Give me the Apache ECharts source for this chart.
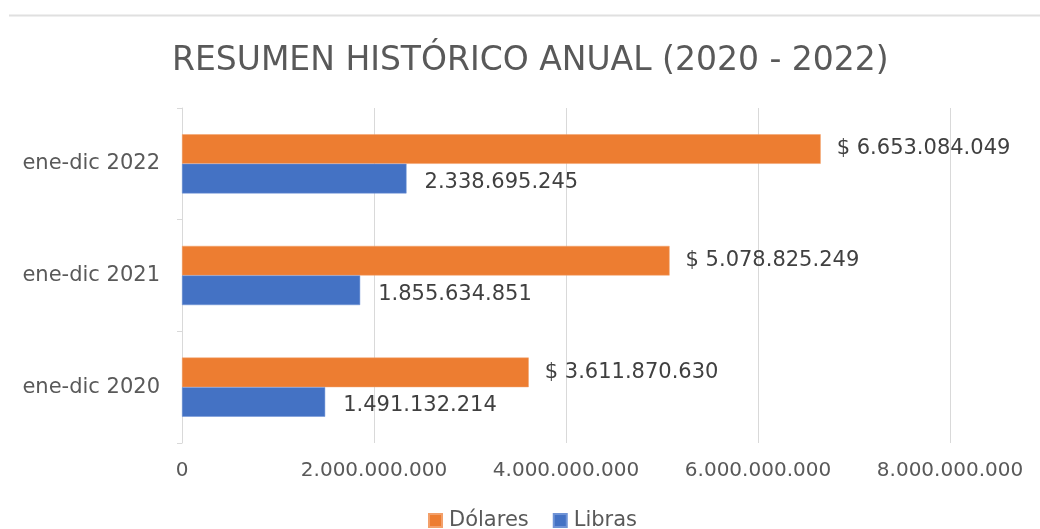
<!DOCTYPE html>
<html>
<head>
<meta charset="utf-8">
<script src="https://cdn.jsdelivr.net/npm/echarts@6/dist/echarts.min.js"></script>
<style>
  html, body { margin: 0; padding: 0; background: #fff; }
  #chart { width: 1040px; height: 529px; }
</style>
</head>
<body>
<div id="chart"></div>
<script>
// categorias (de abajo hacia arriba)
const categorias = ['ene-dic 2020', 'ene-dic 2021', 'ene-dic 2022'];
// valores por serie
const dolares = [3611870630, 5078825249, 6653084049];
const libras = [1491132214, 1855634851, 2338695245];
// eje x
const ejeMax = 8000000000;
const ejePaso = 2000000000;

//formato con puntos de miles
function miles(v) {
  return String(Math.round(v)).replace(/\B(?=(\d{3})+(?!\d))/g, '.');
}

let chart = echarts.init(document.getElementById('chart'), null, { renderer: 'canvas' });

const fuente = '"DejaVu Sans", sans-serif';

chart.setOption({
  backgroundColor: '#ffffff',
  animation: false,
  title: {
    text: 'RESUMEN HISTÓRICO ANUAL (2020 - 2022)',
    left: 167,
    top: 40,
    textStyle: {
      fontFamily: fuente,
      fontSize: 33,
      fontWeight: 'normal',
      color: '#595959'
    }
  },
  //linea superior de la hoja
  graphic: [{
    type: 'line',
    shape: { x1: 9, y1: 15.5, x2: 1040, y2: 15.5 },
    style: { stroke: '#e0e0e0', lineWidth: 2 }
  }],
  legend: {
    data: ['Dólares', 'Libras'],
    bottom: -7,
    left: 423,
    itemWidth: 13,
    itemHeight: 13,
    itemGap: 24,
    icon: 'rect',
    textStyle: { fontFamily: fuente, fontSize: 21, color: '#595959', padding: [0, 0, 0, 2] }
  },
  grid: {
    left: 182,
    right: 90,
    top: 108,
    bottom: 86,
    containLabel: false
  },
  xAxis: {
    type: 'value',
    min: 0,
    max: ejeMax,
    interval: ejePaso,
    axisLine: { show: false },
    axisTick: { show: false },
    splitLine: { lineStyle: { color: '#d9d9d9', width: 1 } },
    axisLabel: {
      margin: 18,
      fontFamily: fuente,
      fontSize: 20,
      color: '#595959',
      formatter: miles
    }
  },
  yAxis: {
    type: 'category',
    data: categorias,
    axisLine: { show: true, lineStyle: { color: '#d9d9d9' } },
    axisTick: { show: true, length: 5, lineStyle: { color: '#d9d9d9' } },
    axisLabel: {
      margin: 22,
      fontFamily: fuente,
      fontSize: 21,
      color: '#595959'
    }
  },
  series: [{
    name: 'Dólares',
    type: 'bar',
    data: dolares,
    barGap: '0%',
    barCategoryGap: '47%',
    itemStyle: { color: '#ED7D31', borderColor: '#f3a06a', borderWidth: 0.5 },
    label: {
      show: true,
      position: 'right',
      distance: 16,
      fontFamily: fuente,
      fontSize: 21,
      color: '#404040',
      formatter: p => '$ ' + miles(p.value)
    }
  }, {
    name: 'Libras',
    type: 'bar',
    data: libras,
    barGap: '0%',
    barCategoryGap: '47%',
    itemStyle: { color: '#4472C4', borderColor: '#6f93d6', borderWidth: 0.5 },
    label: {
      show: true,
      position: 'right',
      distance: 18,
      offset: [0, 4],
      fontFamily: fuente,
      fontSize: 21,
      color: '#404040',
      formatter: p => miles(p.value)
    }
  }]
});
</script>
</body>
</html>
